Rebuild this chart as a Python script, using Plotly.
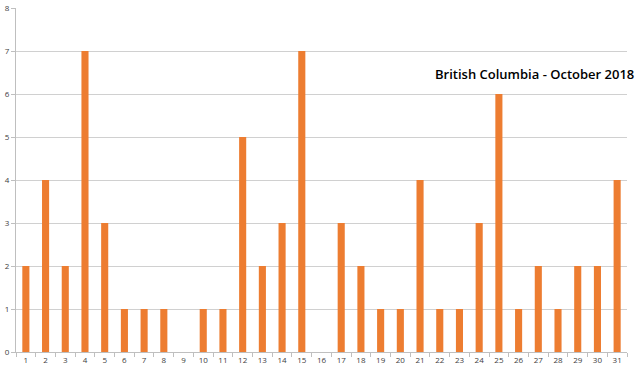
import plotly.graph_objects as go

days = [str(d) for d in range(1, 32)]
counts = [2, 4, 2, 7, 3, 1, 1, 1, 0, 1, 1, 5, 2, 3, 7, 0, 3, 2, 1, 1, 4, 1, 1, 3, 6, 1, 2, 1, 2, 2, 4]
title_text = "British Columbia - October 2018"

fig = go.Figure(go.Bar(x=days, y=counts, marker=dict(color="#ED7D31", line=dict(width=0))))

fig.update_layout(
    width=640, height=368,
    margin=dict(l=16, r=13, t=8, b=16),
    paper_bgcolor="white", plot_bgcolor="white",
    bargap=0.64,
    showlegend=False,
    font=dict(family="Open Sans, sans-serif", size=8, color="#404040"),
    annotations=[dict(text=title_text, x=1.014, y=0.808, xref="paper", yref="paper",
                      xanchor="right", yanchor="middle", showarrow=False,
                      font=dict(size=13, color="#000000", family="Open Sans, sans-serif", weight=600))],
)
fig.update_xaxes(type="category", showline=True, linecolor="#BFBFBF", linewidth=1,
                 ticks="outside", ticklen=4, tickcolor="#BFBFBF", tickson="boundaries",
                 showgrid=False, tickfont=dict(size=8), automargin=False)
fig.update_yaxes(range=[0, 8], dtick=1, showline=True, linecolor="#BFBFBF", linewidth=1,
                 ticks="outside", ticklen=4, tickcolor="#BFBFBF", automargin=False,
                 gridcolor="#D0D0D0", gridwidth=1, zeroline=False, tickfont=dict(size=8))

fig.write_html("out.html")
